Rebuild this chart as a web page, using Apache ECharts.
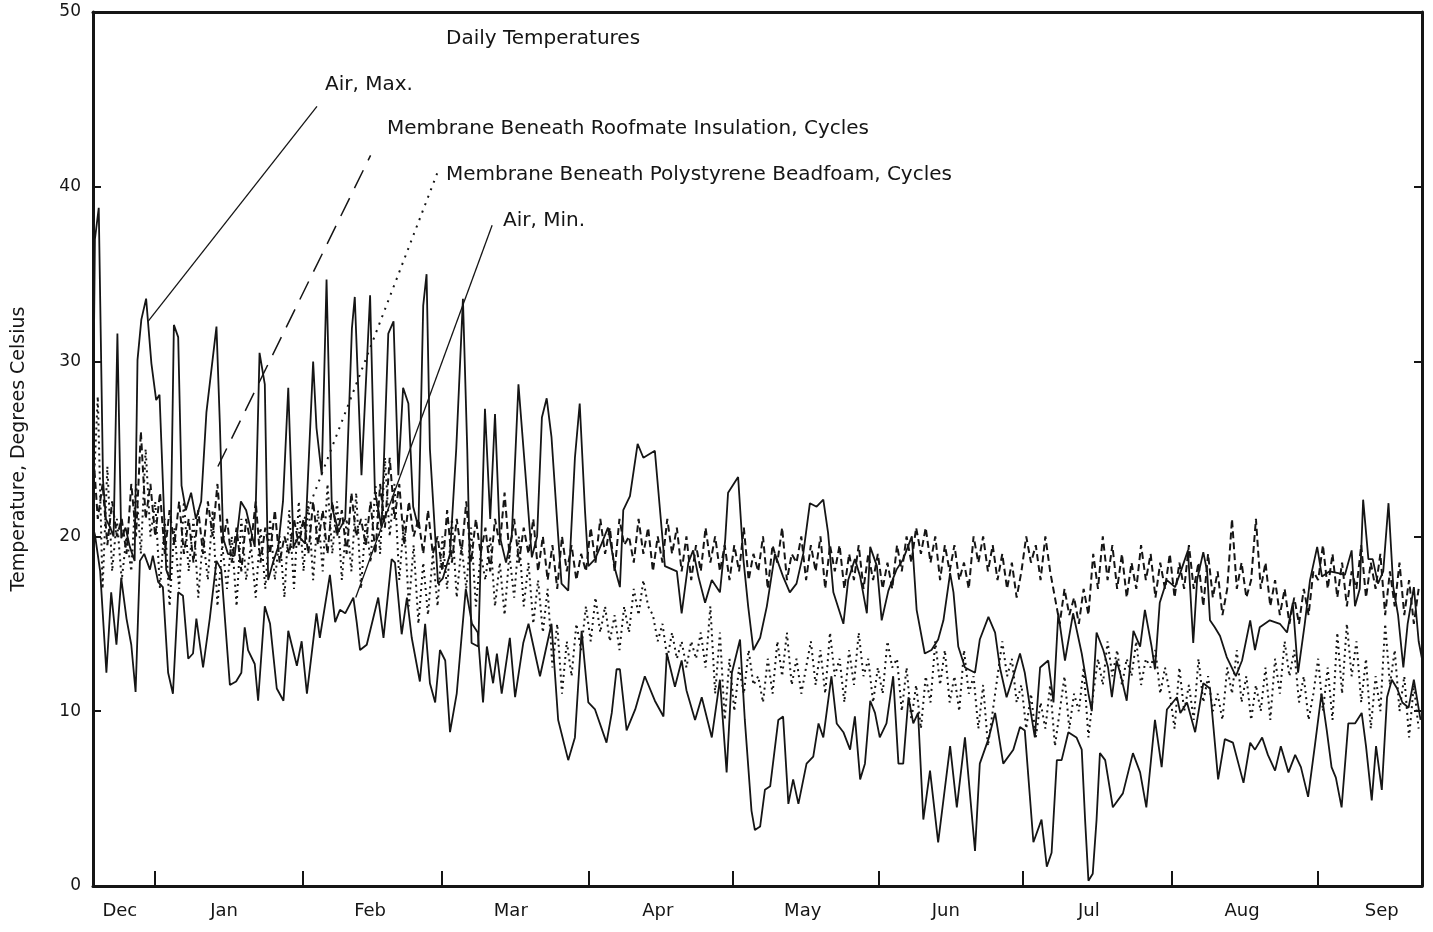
<!DOCTYPE html>
<html>
<head>
    <meta charset="utf-8">
    <title>Daily Temperatures</title>
    <script src="https://cdn.jsdelivr.net/npm/echarts@6.0.0/dist/echarts.min.js"></script>
    <style type="text/css">
    html, body { margin: 0; padding: 0; background: #fff; }
    #main { width: 1433px; height: 932px; }
    </style>
</head>
<body>
    <div id="main"></div>
    <script type="text/javascript">
        // day 0 = Dec 19, one unit = one day
        var monthNames = ['Dec', 'Jan', 'Feb', 'Mar', 'Apr', 'May', 'Jun', 'Jul', 'Aug', 'Sep'];
        var monthLabelDays = [5.6, 27.4, 57.9, 87.3, 118, 148.3, 178.2, 208.1, 240.1, 269.3];
        var monthTickDays = [13, 43.9, 72.9, 103.6, 133.7, 164.2, 194.3, 225.4, 256];
        var yTicks = [0, 10, 20, 30, 40, 50];

        // Air, Max. : [day, degC]
        var airMax = [
            [0,26],[0.4,37],[1.2,38.8],[2.1,23.2],[2.7,21],[3.6,20.5],[4.3,20],[5.1,31.6],[5.9,19.9],[6.8,20.5],
            [7.7,19.4],[8.7,18.6],[9.3,30.1],[10.1,32.4],[11.1,33.6],[12.2,29.9],[13.2,27.8],[13.9,28.1],[15.3,18.1],
            [16.1,17.5],[16.9,32.1],[17.8,31.4],[18.5,22.9],[19.4,21.5],[20.5,22.5],[21.5,21],[22.6,22],[23.7,27.1],
            [25.8,32],[26.5,26.5],[27.2,19.9],[28.2,19],[29.6,18.9],[30.9,22],[32,21.5],[33.8,19.4],[34.8,30.5],
            [35.9,28.7],[36.6,17.5],[37.6,18.5],[38.7,19.4],[39.7,22],[40.8,28.5],[41.9,19.4],[43,20],[44.3,19.6],
            [46,30],[46.7,26.2],[47.8,23.5],[48.8,34.7],[49.9,21.7],[51.3,20.3],[52.7,21],[54.1,31.9],[54.7,33.7],
            [56.1,23.5],[57.9,33.8],[58.9,22.6],[60.3,20.5],[61.7,31.6],[62.8,32.3],[63.8,23.5],[64.8,28.5],[65.9,27.6],
            [66.9,21.7],[68,20.5],[69,33.2],[69.7,35],[70.4,25],[72.1,17.3],[73.1,17.6],[74.6,19],[75.9,25],[77.3,33.6],
            [78.2,25],[79.1,13.9],[80.5,13.7],[81.9,27.3],[83,21],[84,27],[85,20],[86.3,18.5],[87.5,20],[88.9,28.7],
            [90.3,23.8],[91.7,18.8],[92.8,20],[93.8,26.8],[94.8,27.9],[95.8,25.7],[97.2,20],[97.9,17.3],[99.3,16.9],
            [100.7,24.5],[101.7,27.6],[102.8,21.5],[103.5,18.3],[104.9,18.7],[106.3,19.6],[107.6,20.5],[109.1,18.1],
            [110.1,17.1],[110.8,21.5],[112.2,22.3],[113.8,25.3],[115,24.5],[117.4,24.9],[118.8,20.5],[119.5,18.3],
            [122,18],[123,15.6],[124.4,18.5],[125.4,19.2],[126.5,17.7],[127.9,16.2],[129.3,17.5],[131,16.8],[132.1,19.8],
            [132.7,22.5],[134.8,23.4],[135.9,18.7],[136.9,16],[138,13.5],[139.4,14.2],[140.8,16],[142.5,19],[144.2,17.7],
            [145.6,16.8],[147,17.3],[148.4,19],[149.8,21.9],[151.2,21.7],[152.6,22.1],[153.6,20.2],[154.7,16.8],[156.8,15],
            [157.8,17.5],[159.2,18.7],[160.3,17.7],[161.7,15.6],[162.4,19.4],[163.8,18.3],[164.8,15.2],[166.2,16.9],
            [167.9,18.1],[169.3,18.7],[171.1,20],[172.1,15.8],[173.8,13.3],[175.2,13.5],[176.6,14.1],[177.7,15.2],
            [179.1,17.9],[179.8,16.8],[180.8,13.7],[182.2,12.5],[184.3,12.2],[185.3,14.1],[187.1,15.4],[188.5,14.5],
            [189.5,12.5],[190.9,10.8],[192.3,12],[193.7,13.3],[194.7,12.2],[195.8,10.2],[196.8,8.5],[197.9,12.5],
            [199.6,12.9],[200.7,10.5],[201.7,15.6],[203.1,12.9],[204.8,15.6],[206.6,13.3],[208,11],[208.7,10],
            [209.7,14.5],[211.1,13.5],[212.1,12.5],[212.9,10.8],[213.9,12.9],[214.8,12],[216,10.6],[217.4,14.6],
            [218.8,13.7],[219.8,15.8],[221.2,13.7],[221.9,12.4],[222.9,16.2],[224.4,17.5],[226.1,17.1],[227.3,18],
            [228.8,19.2],[229.9,13.9],[230.7,17.5],[232,19.1],[232.8,18],[233.4,15.2],[234.4,14.8],[235.5,14.3],
            [236.9,13.1],[238.8,12],[240.1,12.9],[241.8,15.2],[242.8,13.5],[243.8,14.8],[245.9,15.2],[248,15],
            [249.5,14.5],[250.7,16.2],[251.8,12.2],[253.2,15],[254.3,17.5],[255.8,19.4],[256.8,17.7],[258.4,18],
            [260.2,17.9],[261.6,17.8],[263,19.2],[263.7,16],[264.7,17],[265.4,22.1],[266.5,18.7],[267.4,18.7],
            [268.5,17.3],[269.6,18],[270.7,21.9],[271.7,17.1],[272.7,15.5],[273.8,12.5],[274.7,15],[276,17.1],
            [277,14],[277.7,13]
        ];

        // Air, Min. : [day, degC]
        var airMin = [
            [0,20.5],[0.4,20.1],[1.5,18],[2.8,12.2],[3.8,16.8],[4.9,13.8],[5.9,17.6],[7,15.3],[8,13.8],[8.9,11.1],
            [9.8,18.6],[10.7,19],[11.9,18.1],[12.5,18.9],[13.6,17.4],[14.6,17.1],[15.7,12.2],[16.7,11],[17.8,16.8],
            [18.8,16.6],[19.9,13],[20.9,13.3],[21.6,15.3],[23,12.5],[24.4,15.3],[25.8,18.6],[26.8,18.1],[28.6,11.5],
            [29.9,11.7],[31,12.2],[31.7,14.8],[32.4,13.5],[33.8,12.7],[34.5,10.6],[35.9,16],[37,15],[38.4,11.3],
            [39.8,10.6],[40.8,14.6],[42.6,12.6],[43.6,14],[44.7,11],[46.7,15.6],[47.4,14.2],[49.5,17.8],[50.6,15.1],
            [51.6,15.8],[52.7,15.6],[54.4,16.5],[55.1,15.1],[55.8,13.5],[57.2,13.8],[59.6,16.5],[60.7,14.2],[62.4,18.7],
            [63.1,18.5],[64.5,14.4],[65.6,16.5],[66.6,14.2],[68.3,11.7],[69.4,15],[70.4,11.6],[71.5,10.5],[72.5,13.5],
            [73.6,12.9],[74.6,8.8],[76,11],[77,14.2],[77.9,17],[79.2,15],[80.4,14.5],[81.5,10.5],[82.3,13.7],[83.6,11.6],
            [84.4,13.3],[85.4,11],[87.1,14.2],[88.2,10.8],[89.9,13.9],[91,15],[93.4,12],[95.8,15],[97.2,9.5],[99.3,7.2],
            [100.7,8.5],[102.1,14.6],[103.5,10.5],[104.9,10.1],[107.3,8.2],[108.4,9.9],[109.4,12.4],[110.1,12.4],
            [111.5,8.9],[113.3,10.1],[115.3,12],[117.4,10.6],[119.2,9.7],[119.9,13.3],[121.6,11.4],[123,12.9],
            [124,11.2],[125.8,9.5],[127.2,10.8],[129.3,8.5],[131,11.8],[132.4,6.5],[133.5,12.2],[135.2,14.1],
            [136.2,9.5],[137.6,4.3],[138.3,3.2],[139.4,3.4],[140.4,5.5],[141.5,5.7],[143.2,9.5],[144.2,9.7],[145.3,4.7],
            [146.3,6.1],[147.4,4.7],[149.1,7],[150.5,7.4],[151.6,9.3],[152.6,8.5],[154.3,12],[155.4,9.3],[156.8,8.8],
            [158.2,7.8],[159.2,9.7],[160.3,6.1],[161.3,7],[162.4,10.6],[163.4,9.9],[164.4,8.5],[165.8,9.3],[167.2,12],
            [168.3,7],[169.3,7],[170.4,10.8],[171.4,9.3],[172.4,9.9],[173.5,3.8],[174.9,6.6],[176.6,2.5],[179.1,8],
            [180.5,4.5],[182.2,8.5],[184.3,2],[185.3,7],[187.1,8.4],[188.5,9.9],[190.2,7],[192.3,7.8],[193.7,9.1],
            [194.7,8.9],[196.5,2.5],[198.2,3.8],[199.3,1.1],[200.3,1.9],[201.4,7.2],[202.4,7.2],[203.8,8.8],[205.5,8.5],
            [206.6,7.8],[207.3,3.8],[208,0.3],[208.9,0.7],[209.7,3.8],[210.4,7.6],[211.5,7.2],[213.1,4.5],[215.2,5.3],
            [217.3,7.6],[218.8,6.5],[220.1,4.5],[221.9,9.5],[223.3,6.8],[224.4,10.1],[226.5,10.8],[227.2,9.9],
            [228.6,10.5],[230.3,8.8],[232,11.6],[233.4,11.3],[235.1,6.1],[236.5,8.4],[238.2,8.2],[240.4,5.9],
            [241.8,8.2],[242.8,7.8],[244.3,8.5],[245.5,7.5],[247,6.6],[248.2,8],[249.8,6.5],[251.2,7.5],[252.4,6.8],
            [253.9,5.1],[255.3,8],[256.7,11],[257.8,8.9],[258.8,6.8],[259.7,6.2],[260.9,4.5],[262.3,9.3],[263.7,9.3],
            [265.1,9.9],[266,8],[267.2,4.9],[268.1,8],[269.3,5.5],[270.4,10.8],[271.4,11.8],[272.5,11.3],[273.6,10.5],
            [274.9,10.2],[276,11.8],[277.4,9.5]
        ];

        // Membrane beneath Roofmate insulation, daily cycle values (one per day from day 0)
        var roofDec = [25, 21, 23, 19.5, 22, 20, 21, 19, 23, 20, 26, 21, 23];
        var roofJan = [20, 22.5, 19, 21.5, 19.5, 22, 19, 21, 18.5, 21.5, 19, 22, 20, 23, 19.5, 21, 18.5, 20.5, 18, 21, 19.5, 22, 18.5, 20.5, 19, 21.5, 18.5, 20, 19, 21, 19.5];
        var roofFeb = [21, 19, 22, 19.5, 21.5, 19, 22, 20, 21.5, 19, 22.5, 20, 21, 19.5, 22, 19, 23, 20.5, 24.5, 21, 23, 19.5, 22, 20, 21, 19, 21.5, 19];
        var roofMar = [20, 18, 21.5, 18.5, 21, 19, 22, 18.5, 21, 19, 20.5, 18, 21, 19.5, 22.5, 19, 21, 18.5, 20.5, 19, 21, 18, 20, 17.5, 19.5, 17, 20, 18, 19.5, 17.5, 19];
        var roofApr = [18, 20.5, 18.5, 21, 19, 20.5, 18, 21, 19.5, 20, 18.5, 21, 19, 20.5, 18, 20, 18.5, 21, 19, 20.5, 18, 20, 17.5, 19.5, 18, 20.5, 18.5, 20, 18, 19.5];
        var roofMay = [17.5, 19.5, 18, 20.5, 17.5, 19, 18, 20, 17, 19.5, 18.5, 20.5, 17.5, 19, 18.5, 20, 17.5, 19.5, 18, 20, 17, 19.5, 18, 19.5, 17, 19, 17.5, 19.5, 17, 19, 17.5];
        var roofJun = [19, 17, 18.5, 17, 19.5, 18, 20, 18.5, 20.5, 19, 20.5, 18.5, 20, 17.5, 19.5, 18, 19.5, 17.5, 18.5, 17, 20, 18.5, 20, 18, 19.5, 17.5, 19, 17, 18.5, 16.5];
        var roofJul = [18, 20, 18.5, 19.5, 17.5, 20, 18, 16.5, 15, 17, 15.5, 16.5, 15, 17, 15.5, 19, 17, 20, 17.5, 19.5, 17, 19, 16.5, 18.5, 17, 19.5, 17.5, 19, 16.5, 18.5, 17];
        var roofAug = [19, 16.5, 18.5, 17, 19.5, 17, 18.5, 16, 19, 16.5, 18, 15.5, 17, 21, 17, 18.5, 16.5, 17.5, 21, 17, 18.5, 16, 17.5, 15.5, 17, 15, 16.5, 15, 17, 15.5, 18];
        var roofSep = [17.5, 19.5, 17, 19, 16.5, 18.5, 16, 18, 17, 19.5, 16.5, 18.5, 17, 19, 15.5, 18, 16, 18.5, 15.5, 17.5, 15, 17];

        // Membrane beneath polystyrene beadfoam, daily cycle values
        var polyDec = [22, 28, 17, 24, 18, 21, 17.5, 20, 18, 23, 19, 25, 20];
        var polyJan = [22, 17, 21, 16, 20.5, 17, 22, 18, 21, 16.5, 20, 17.5, 21.5, 16, 19.5, 17, 20, 16, 21, 17.5, 19.5, 16.5, 20.5, 17, 21, 17.5, 20, 16.5, 21.5, 17, 22];
        var polyFeb = [18, 22, 17.5, 21.5, 18, 23, 19, 22, 17.5, 21, 18, 22.5, 17, 21, 18.5, 23, 19, 24.5, 20, 23, 17.5, 21, 16, 19.5, 15, 18.5, 15.5, 19];
        var polyMar = [16, 20, 17, 21, 16.5, 19.5, 17, 20.5, 16, 19, 17.5, 20, 16, 18.5, 15.5, 19, 16.5, 20, 16, 18.5, 15, 17.5, 14.5, 17, 12.5, 15, 11, 14, 12, 15, 13.5];
        var polyApr = [16, 14, 16.5, 14.5, 16, 14, 15.5, 13.5, 16, 14.5, 17, 15.5, 17.5, 16, 15.5, 14, 15, 13, 14.5, 13, 14, 12.5, 14, 13, 14.5, 12.5, 16, 11, 14.5, 9.5];
        var polyMay = [13, 10, 12.5, 11, 13.5, 11.5, 12, 10.5, 13, 11, 14, 12, 14.5, 11.5, 13, 11, 12.5, 14, 11.5, 13.5, 11, 14.5, 12, 13, 10.5, 13.5, 11.5, 14.5, 12, 13, 10.5];
        var polyJun = [12.5, 11, 14, 12.5, 13, 10, 12.5, 9.5, 11.5, 9, 12, 10.5, 14, 11.5, 13.5, 10.5, 12, 10, 13.5, 11, 12, 9, 11.5, 8, 10, 12, 14, 12, 13, 10.5];
        var polyJul = [11.5, 9, 11, 8.5, 10.5, 9, 11.5, 8, 10, 12, 9, 11, 10, 12.5, 8.5, 11, 13, 11.5, 14, 12, 13.5, 11.5, 13, 12, 14, 11.5, 13, 12.5, 13.5, 11, 12.5];
        var polyAug = [11, 9, 12.5, 10, 11.5, 9.5, 13, 10.5, 12, 10, 11, 9.5, 12.5, 11, 13.5, 10.5, 12, 9.5, 11.5, 10, 12.5, 9.5, 13, 11, 14, 12, 13.5, 10.5, 12, 9.5, 11];
        var polySep = [13, 10, 12.5, 9.5, 14.5, 11, 15, 12, 14, 10.5, 13, 9, 12, 10, 15, 11.5, 13.5, 10, 12, 8.5, 11.5, 9];

        var roofmate = [].concat(roofDec, roofJan, roofFeb, roofMar, roofApr, roofMay, roofJun, roofJul, roofAug, roofSep);
        var beadfoam = [].concat(polyDec, polyJan, polyFeb, polyMar, polyApr, polyMay, polyJun, polyJul, polyAug, polySep);

        function byDay(arr) {
            return arr.map(function (v, i) { return [i, v]; });
        }

        var ink = '#151515';
        var font = 'DejaVu Sans';

        function leader(from, to, type, width) {
            return {
                silent: true,
                symbol: ['none', 'none'],
                label: { show: false },
                lineStyle: { color: ink, type: type, width: width },
                data: [[{ coord: from }, { coord: to }]]
            };
        }

        var myChart = echarts.init(document.getElementById('main'));
        var option = {
            animation: false,
            backgroundColor: '#fff',
            textStyle: { fontFamily: font, color: ink },
            grid: { left: 93, right: 11, top: 12, bottom: 46 },
            xAxis: [{
                type: 'value',
                min: 0,
                max: 277.7,
                axisLine: { onZero: false, lineStyle: { color: ink, width: 3 } },
                axisTick: {
                    inside: true, length: 15,
                    customValues: monthTickDays,
                    lineStyle: { color: ink, width: 2 }
                },
                axisLabel: {
                    customValues: monthLabelDays,
                    formatter: function (v) { return monthNames[monthLabelDays.indexOf(v)]; },
                    fontSize: 18, color: ink, margin: 16
                },
                splitLine: { show: false }
            }, {
                type: 'value',
                position: 'top',
                min: 0,
                max: 277.7,
                axisLine: { show: true, onZero: false, lineStyle: { color: ink, width: 3 } },
                axisTick: { show: false },
                axisLabel: { show: false },
                splitLine: { show: false }
            }],
            yAxis: [{
                type: 'value',
                min: 0,
                max: 50,
                interval: 10,
                name: 'Temperature, Degrees Celsius',
                nameLocation: 'middle',
                nameGap: 64,
                nameTextStyle: { fontSize: 19, color: ink },
                axisLine: { show: true, onZero: false, lineStyle: { color: ink, width: 3 } },
                axisTick: { inside: true, length: 8, customValues: yTicks, lineStyle: { color: ink, width: 2 } },
                axisLabel: { fontSize: 17, color: ink, margin: 12 },
                splitLine: { show: false }
            }, {
                type: 'value',
                position: 'right',
                min: 0,
                max: 50,
                interval: 10,
                axisLine: { show: true, onZero: false, lineStyle: { color: ink, width: 3 } },
                axisTick: { inside: true, length: 8, lineStyle: { color: ink, width: 2 } },
                axisLabel: { show: false },
                splitLine: { show: false }
            }],
            series: [{
                name: 'Membrane Beneath Polystyrene Beadfoam, Cycles',
                type: 'line',
                data: byDay(beadfoam),
                showSymbol: false,
                lineStyle: { color: ink, width: 2, type: [2, 4] },
                markLine: leader([41.8, 19.3], [72.1, 40.9], [2, 6], 2)
            }, {
                name: 'Membrane Beneath Roofmate Insulation, Cycles',
                type: 'line',
                data: byDay(roofmate),
                showSymbol: false,
                lineStyle: { color: ink, width: 2, type: [7, 4] },
                markLine: leader([26.1, 24.0], [58.0, 41.8], [20, 11], 1.5)
            }, {
                name: 'Air, Max.',
                type: 'line',
                data: airMax,
                showSymbol: false,
                lineStyle: { color: ink, width: 1.8 },
                markLine: leader([11.5, 32.3], [46.8, 44.6], 'solid', 1.3)
            }, {
                name: 'Air, Min.',
                type: 'line',
                data: airMin,
                showSymbol: false,
                lineStyle: { color: ink, width: 1.8 },
                markLine: leader([54.9, 16.5], [83.4, 37.8], 'solid', 1.3)
            }],
            graphic: [
                { type: 'text', x: 446, y: 39, style: { text: 'Daily Temperatures', fontSize: 20, fontFamily: font, fill: ink, verticalAlign: 'middle' } },
                { type: 'text', x: 325, y: 85, style: { text: 'Air, Max.', fontSize: 20, fontFamily: font, fill: ink, verticalAlign: 'middle' } },
                { type: 'text', x: 387, y: 129, style: { text: 'Membrane Beneath Roofmate Insulation, Cycles', fontSize: 20, fontFamily: font, fill: ink, verticalAlign: 'middle' } },
                { type: 'text', x: 446, y: 175, style: { text: 'Membrane Beneath Polystyrene Beadfoam, Cycles', fontSize: 20, fontFamily: font, fill: ink, verticalAlign: 'middle' } },
                { type: 'text', x: 503, y: 221, style: { text: 'Air, Min.', fontSize: 20, fontFamily: font, fill: ink, verticalAlign: 'middle' } }
            ]
        };
        myChart.setOption(option);
    </script>
</body>
</html>
